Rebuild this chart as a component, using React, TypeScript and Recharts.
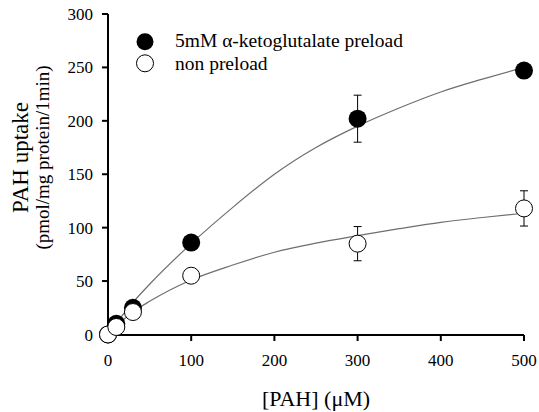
import React from 'react';
import { ComposedChart, Line, Scatter, XAxis, YAxis, ErrorBar } from 'recharts';

const FONT = "'Liberation Serif', 'Times New Roman', serif";

// Measured points
const concentrations = [0, 10, 30, 100, 300, 500];
const preloadUptake = [0, 10, 25, 86, 202, 247];
const preloadSem = [0.5, 1.5, 3, 4, 22, 4];
const nonPreloadUptake = [0, 7, 21, 55, 85, 118];
const nonPreloadSem = [0.5, 1, 2, 3, 16, 16.5];

// Fitted curves
const fitConc = [0, 10, 30, 50, 100, 150, 200, 250, 300, 350, 400, 450, 500];
const preloadFit = [0, 10.5, 30, 47, 85, 119, 150, 175, 195, 212, 227, 239, 250];
const nonPreloadFit = [0, 8, 21, 31, 51, 65, 77, 85.5, 92.5, 99, 105, 109.5, 113.5];

const xTicks = [0, 100, 200, 300, 400, 500];
const yTicks = [0, 50, 100, 150, 200, 250, 300];
const seriesNames = ['5mM \u03b1-ketoglutalate preload', 'non preload'];
const xTitle = '[PAH] (\u03bcM)';
const yTitleLines = ['PAH uptake', '(pmol/mg protein/1min)'];

const preloadPoints = concentrations.map((x, i) => ({ x, y: preloadUptake[i], err: preloadSem[i] }));
const nonPreloadPoints = concentrations.map((x, i) => ({ x, y: nonPreloadUptake[i], err: nonPreloadSem[i] }));
const preloadCurve = fitConc.map((x, i) => ({ x, y: preloadFit[i] }));
const nonPreloadCurve = fitConc.map((x, i) => ({ x, y: nonPreloadFit[i] }));

const FilledDot = (props: any) => <circle cx={props.cx} cy={props.cy} r={9} fill="#000" />;
const OpenDot = (props: any) => <circle cx={props.cx} cy={props.cy} r={8.5} fill="#fff" stroke="#000" strokeWidth={1} />;

const YLabel = (props: any) => {
  const vb = props.viewBox || { x: 0, y: 14, width: 108, height: 321 };
  const cy = vb.y + vb.height / 2 - 17;
  const xs = [20, 42];
  const sizes = [23, 19];
  return (
    <g>
      {yTitleLines.map((t, i) => (
        <text
          key={t}
          x={xs[i]}
          y={cy}
          transform={`rotate(-90, ${xs[i]}, ${cy})`}
          textAnchor="middle"
          dominantBaseline="central"
          fontSize={sizes[i]}
          fontFamily={FONT}
          fill="#000"
        >
          {t}
        </text>
      ))}
    </g>
  );
};

export default function App() {
  const axisStyle = { stroke: '#000', strokeWidth: 2 };
  return (
    <div style={{ position: 'absolute', left: 0, top: 0, width: 539, height: 412, background: '#fff' }}>
      <ComposedChart width={539} height={412} margin={{ top: 14, right: 15, left: 0, bottom: 0 }}>
        <XAxis
          type="number"
          dataKey="x"
          domain={[0, 500]}
          ticks={xTicks}
          height={77}
          tickSize={6}
          tickMargin={13}
          axisLine={axisStyle}
          tickLine={axisStyle}
          tick={{ fill: '#000', fontSize: 17, fontFamily: FONT }}
          label={{ value: xTitle, position: 'insideBottom', offset: 6, fill: '#000', fontSize: 22, fontFamily: FONT }}
        />
        <YAxis
          type="number"
          domain={[0, 300]}
          ticks={yTicks}
          width={108}
          tickSize={6}
          tickMargin={9}
          axisLine={axisStyle}
          tickLine={axisStyle}
          tick={{ fill: '#000', fontSize: 17, fontFamily: FONT }}
          label={YLabel}
        />
        <Line data={preloadCurve} dataKey="y" type="monotone" stroke="#6e6e6e" strokeWidth={1.2} dot={false} isAnimationActive={false} />
        <Line data={nonPreloadCurve} dataKey="y" type="monotone" stroke="#6e6e6e" strokeWidth={1.2} dot={false} isAnimationActive={false} />
        <Scatter data={preloadPoints} dataKey="y" shape={FilledDot} isAnimationActive={false}>
          <ErrorBar dataKey="err" direction="y" width={4} stroke="#000" strokeWidth={1} />
        </Scatter>
        <Scatter data={nonPreloadPoints} dataKey="y" shape={OpenDot} isAnimationActive={false}>
          <ErrorBar dataKey="err" direction="y" width={4} stroke="#000" strokeWidth={1} />
        </Scatter>
      </ComposedChart>
      <svg width={539} height={412} style={{ position: 'absolute', left: 0, top: 0, pointerEvents: 'none' }}>
        <circle cx={145} cy={41.7} r={8.5} fill="#000" />
        <circle cx={145} cy={63.3} r={8.5} fill="#fff" stroke="#000" strokeWidth={1} />
        <text x={175} y={47.3} fontSize={19.5} fontFamily={FONT} fill="#000">{seriesNames[0]}</text>
        <text x={175} y={70} fontSize={19.5} fontFamily={FONT} fill="#000">{seriesNames[1]}</text>
      </svg>
    </div>
  );
}
